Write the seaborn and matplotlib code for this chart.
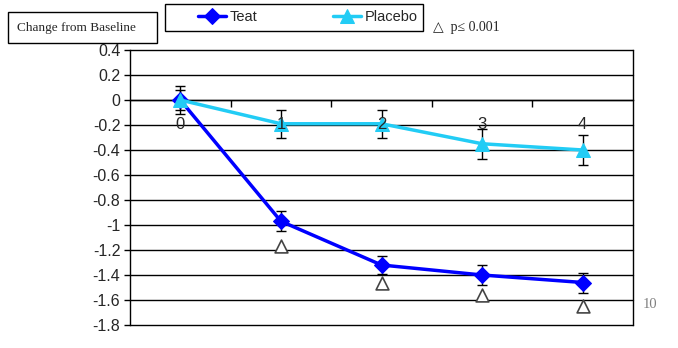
import matplotlib
matplotlib.use("Agg")
import matplotlib.pyplot as plt
from matplotlib.patches import Rectangle
import seaborn as sns
import pandas as pd
import numpy as np

weeks = [0, 1, 2, 3, 4]
tick_labels = ["0", "1", "2", "3", "4"]
teat = [0.0, -0.97, -1.32, -1.40, -1.46]
teat_err = [0.08, 0.08, 0.07, 0.08, 0.08]
placebo = [0.0, -0.19, -0.19, -0.35, -0.40]
placebo_err = [0.11, 0.11, 0.11, 0.12, 0.12]
sig_weeks = [1, 2, 3, 4]
sig_y = [-1.17, -1.46, -1.56, -1.65]

teat_color = "#0000FF"
placebo_color = "#22CCF5"

sns.set_theme(style="white")
plt.rcParams["font.family"] = ["Liberation Sans", "DejaVu Sans"]

fig = plt.figure(figsize=(6.78, 3.48), dpi=100)
ax = fig.add_axes([130/678, 1-325/348, 503/678, 275/348])

df_t = pd.DataFrame({"week": weeks, "value": teat})
df_p = pd.DataFrame({"week": weeks, "value": placebo})

ax.errorbar(weeks, teat, yerr=teat_err, fmt="none", ecolor="black",
            elinewidth=1, capsize=3.5, capthick=1, zorder=3)
ax.errorbar(weeks, placebo, yerr=placebo_err, fmt="none", ecolor="black",
            elinewidth=1, capsize=3.5, capthick=1, zorder=3)

sns.lineplot(data=df_t, x="week", y="value", ax=ax, color=teat_color,
             marker="D", markersize=8, markeredgecolor=teat_color,
             linewidth=2.5, label="Teat", zorder=4)
sns.lineplot(data=df_p, x="week", y="value", ax=ax, color=placebo_color,
             marker="^", markersize=10, markeredgecolor=placebo_color,
             linewidth=2.5, label="Placebo", zorder=5)

df_s = pd.DataFrame({"week": sig_weeks, "y": sig_y})
sns.scatterplot(data=df_s, x="week", y="y", ax=ax, marker="^", s=85,
                facecolor="white", edgecolor="#444444", linewidth=1.2,
                zorder=6, legend=False)

ax.set_xlim(-0.5, 4.5)
ax.set_ylim(-1.8, 0.4)
yt = np.round(np.arange(-1.8, 0.41, 0.2), 1)
ax.set_yticks(yt)
ax.set_yticklabels([("%g" % v) if abs(v) > 1e-9 else "0" for v in yt], fontsize=11.5)
ax.grid(False)
for v in yt:
    ax.axhline(v, color="black", linewidth=1, zorder=1, clip_on=False)

# x axis crossing at zero
ax.spines["bottom"].set_position(("data", 0))
ax.spines["bottom"].set_linewidth(1)
ax.spines["top"].set_visible(False)
for s in ["left", "right"]:
    ax.spines[s].set_color("black")
    ax.spines[s].set_linewidth(1)
ax.spines["bottom"].set_color("black")
ax.set_xticks([0.5, 1.5, 2.5, 3.5])
ax.set_xticklabels([])
ax.set_xticks(weeks, minor=True)
ax.set_xticklabels(tick_labels, minor=True, fontsize=12)
ax.tick_params(axis="x", which="major", direction="out", length=5, width=1, color="black", bottom=True)
ax.tick_params(axis="x", which="minor", length=0, pad=12, bottom=True)
ax.tick_params(axis="y", direction="out", length=4, width=1, color="black", left=True, pad=3)
ax.xaxis.set_zorder(10)
ax.set_xlabel("")
ax.set_ylabel("")

handles, labels = ax.get_legend_handles_labels()
if ax.get_legend():
    ax.get_legend().remove()
# legend frame
fig.patches.append(Rectangle((165/678, 1-31/348), 258/678, 27/348,
                             transform=fig.transFigure, fill=False,
                             edgecolor="black", linewidth=1))
leg = fig.legend(handles, labels, ncol=2, loc="center left",
                 bbox_to_anchor=(198/678, 1-17/348),
                 frameon=False, fontsize=10.5, columnspacing=5.2,
                 handlelength=1.9, handletextpad=0.25, borderpad=0.0,
                 borderaxespad=0.0)

# title box
fig.patches.append(Rectangle((8/678, 1-43/348), 149/678, 31/348,
                             transform=fig.transFigure, fill=False,
                             edgecolor="black", linewidth=1))
fig.text(17/678, 1-27.5/348, "Change from Baseline", family="Liberation Serif",
         fontsize=9.5, va="center", ha="left")
fig.text(433/678, 1-28/348, "△  p≤ 0.001", family=["Liberation Serif", "DejaVu Sans"],
         fontsize=10, va="center", ha="left")
fig.text(643/678, 1-304/348, "10", family="Liberation Serif", fontsize=10.5,
         color="#808080", va="center", ha="left")

fig.savefig("out.png", dpi=100)
